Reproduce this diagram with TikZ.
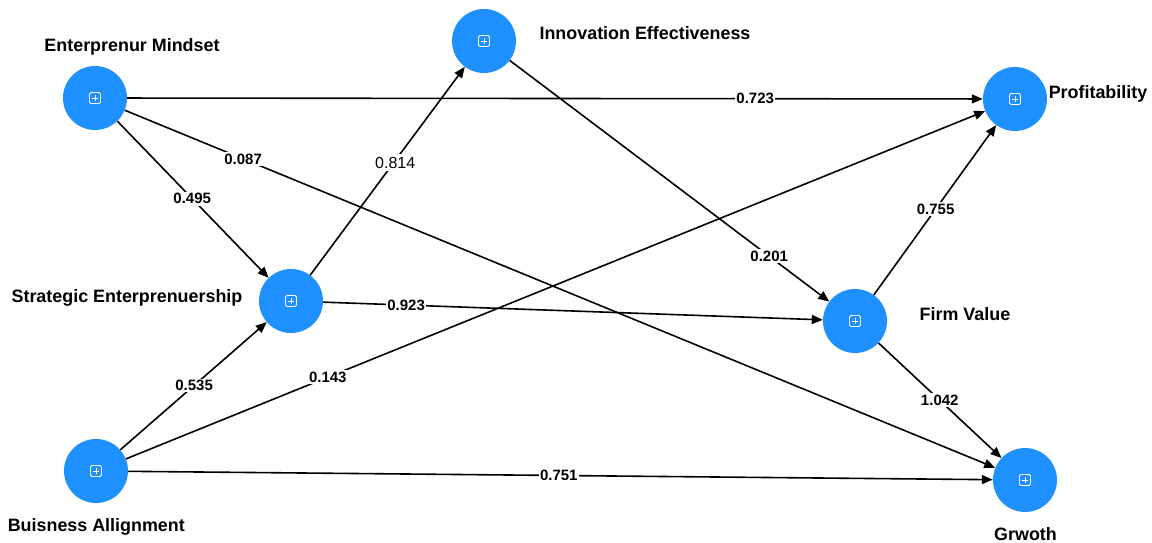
\documentclass[tikz,border=0pt]{standalone}
\usepackage{fontspec}
\setmainfont{Liberation Sans}
\usetikzlibrary{arrows.meta}
\definecolor{lvblue}{RGB}{30,144,255}
\begin{document}
\begin{tikzpicture}[x=1pt,y=-1pt,
  construct/.style={circle, fill=lvblue, minimum size=64pt, inner sep=0pt,
    path picture={
      \draw[white, line width=0.9pt, rounded corners=1.5pt]
        ([shift={(-5.5pt,-5.5pt)}]path picture bounding box.center) rectangle
        ([shift={(5.5pt,5.5pt)}]path picture bounding box.center);
      \draw[white, line width=0.9pt]
        ([shift={(-3.3pt,0pt)}]path picture bounding box.center) --
        ([shift={(3.3pt,0pt)}]path picture bounding box.center)
        ([shift={(0pt,-3.3pt)}]path picture bounding box.center) --
        ([shift={(0pt,3.3pt)}]path picture bounding box.center);
    }},
  cname/.style={anchor=base, inner sep=0pt, font=\bfseries\fontsize{17.9}{21}\selectfont},
  link/.style={draw, line width=1.6pt, -{Triangle[length=11pt,width=9pt]}},
  coef/.style={fill=white, inner sep=1.5pt, font=\bfseries\fontsize{15}{18}\selectfont},
  coefplain/.style={fill=white, inner sep=2.5pt, font=\fontsize{16}{19}\selectfont}
]
\useasboundingbox (0,0) rectangle (1152,543);

% constructs
\node[construct] (em) at (95,98) {};
\node[construct] (ie) at (484,41) {};
\node[construct] (pr) at (1015,99) {};
\node[construct] (se) at (291,301) {};
\node[construct] (fv) at (855,321) {};
\node[construct] (ba) at (96,471) {};
\node[construct] (gr) at (1025,480) {};

% construct names
\node[cname] (emt) at (132,51.7) {Enterprenur Mindset};
\node[cname] (iet) at (645,39.3) {Innovation Effectiveness};
\node[cname] (prt) at (1098,98.3) {Profitability};
\node[cname] (set) at (127,302) {Strategic Enterprenuership};
\node[cname] (fvt) at (965,320.7) {Firm Value};
\node[cname] (bat) at (96.3,531) {Buisness Allignment};
\node[cname] (grt) at (1025.5,540) {Grwoth};

% structural paths with coefficients
\draw[link] (em) -- node[coef, pos=0.734] (c1) {0.723} (pr);
\draw[link] (em) -- node[coef, pos=0.136] (c2) {0.087} (gr);
\draw[link] (em) -- node[coef, pos=0.495] (c3) {0.495} (se);
\draw[link] (se) -- node[coefplain, pos=0.55, yshift=-2pt] (c4) {0.814} (ie);
\draw[link] (ie) -- node[coef, pos=0.812] (c5) {0.201} (fv);
\draw[link] (fv) -- node[coef, pos=0.505] (c6) {0.755} (pr);
\draw[link] (se) -- node[coef, pos=0.166] (c7) {0.923} (fv);
\draw[link] (ba) -- node[coef, pos=0.235] (c8) {0.143} (pr);
\draw[link] (ba) -- node[coef, pos=0.504] (c9) {0.535} (se);
\draw[link] (fv) -- node[coef, pos=0.498] (c10) {1.042} (gr);
\draw[link] (ba) -- node[coef, pos=0.498] (c11) {0.751} (gr);
\end{tikzpicture}
\end{document}
